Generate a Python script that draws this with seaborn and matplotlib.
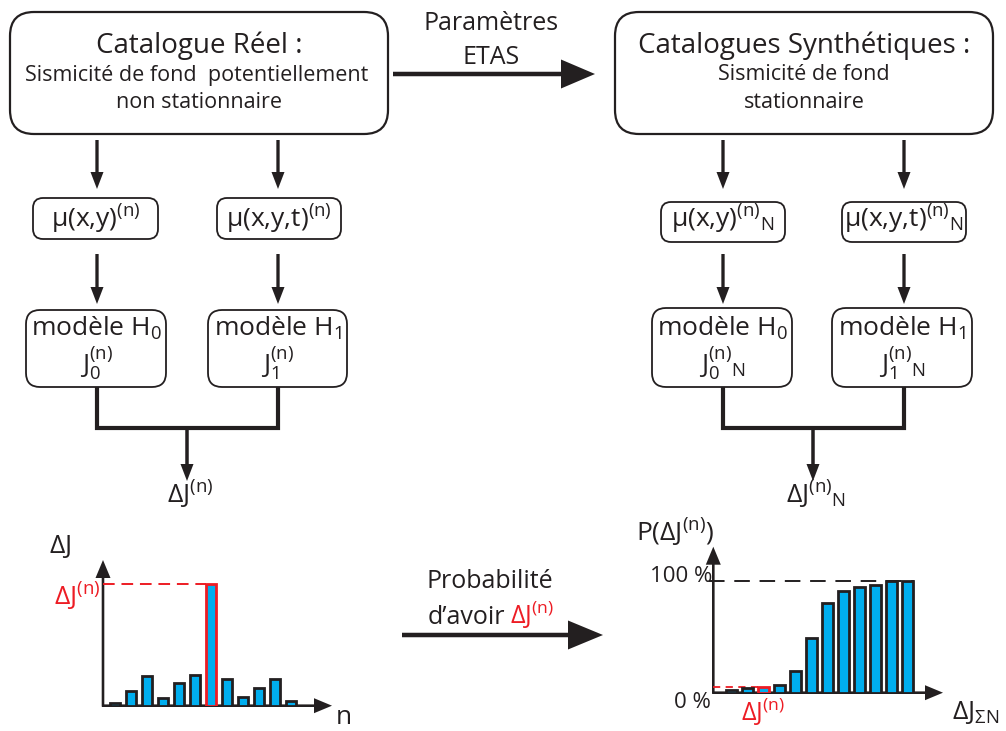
import matplotlib
matplotlib.use("Agg")
import matplotlib.pyplot as plt
from matplotlib.patches import FancyBboxPatch, FancyArrow
import seaborn as sns

sns.set_theme(style="white")
plt.rcParams['font.family'] = ['Open Sans', 'DejaVu Sans']
plt.rcParams['mathtext.fontset'] = 'custom'
plt.rcParams['mathtext.rm'] = 'Open Sans'
plt.rcParams['mathtext.it'] = 'Open Sans:italic'
plt.rcParams['mathtext.bf'] = 'Open Sans:bold'

DARK = '#231F20'
RED = '#ED1C24'
BLUE = '#00AEEF'

# bar chart data
dj_index = list(range(12))
dj_values = [3, 15, 30, 8, 23, 31, 122, 27, 9, 18, 27, 5]   # delta J per catalogue n
dj_peak = 6                                                  # the real catalogue bar
prob_index = list(range(12))
prob_values = [2.4, 3.9, 5.4, 7.1, 19.6, 48.5, 80.4, 90.8, 94.0, 96.4, 99.4, 100.0]  # P(dJ) in %
prob_mark = 2

W, H = 1006, 731
fig = plt.figure(figsize=(W / 100, H / 100), dpi=100)
ax = fig.add_axes([0, 0, 1, 1])
ax.set_xlim(0, W)
ax.set_ylim(H, 0)
ax.axis('off')


def frac(x0, y0, x1, y1):
    return [x0 / W, 1 - y1 / H, (x1 - x0) / W, (y1 - y0) / H]


def box(x0, y0, x1, y1, r=14, lw=1.3):
    ax.add_patch(FancyBboxPatch((x0, y0), x1 - x0, y1 - y0,
                                boxstyle=f"round,pad=0,rounding_size={r}",
                                fc='white', ec=DARK, lw=lw, zorder=2))


def arrow(x0, y0, x1, y1, w=3.3, hw=13, hl=17):
    ax.add_patch(FancyArrow(x0, y0, x1 - x0, y1 - y0, width=w, head_width=hw,
                            head_length=hl, length_includes_head=True,
                            color=DARK, lw=0, zorder=3))


def txt(x, y, s, size=19, color=DARK, ha='center'):
    ax.text(x, y, s, fontsize=size, color=color, ha=ha, va='center', zorder=4)


# --- top boxes ---
box(10, 12, 388, 134, r=24, lw=1.6)
txt(199, 46, 'Catalogue Réel :', 20)
txt(197, 75, 'Sismicité de fond  potentiellement', 15.5)
txt(199, 102, 'non stationnaire', 15.5)

box(615, 12, 993, 134, r=24, lw=1.6)
txt(804, 46, 'Catalogues Synthétiques :', 20)
txt(804, 75, 'Sismicité de fond', 15.5)
txt(804, 102, 'stationnaire', 15.5)

txt(491, 23, 'Paramètres', 18)
txt(491, 58, 'ETAS', 18)
arrow(393, 74, 595, 74, w=4.5, hw=29, hl=34)


def branch(xl, xr, xc, mu_l, mu_r, top_y, mu_box_l, mu_box_r, mod_l, mod_r,
           labels, out_label):
    arrow(xl, top_y, xl, 189)
    arrow(xr, top_y, xr, 189)
    box(*mu_box_l, r=10)
    box(*mu_box_r, r=10)
    txt((mu_box_l[0] + mu_box_l[2]) / 2, 219, mu_l)
    txt((mu_box_r[0] + mu_box_r[2]) / 2, 219, mu_r)
    arrow(xl, 254, xl, 304)
    arrow(xr, 254, xr, 304)
    box(*mod_l, r=14)
    box(*mod_r, r=14)
    txt((mod_l[0] + mod_l[2]) / 2, 328, labels[0])
    txt((mod_l[0] + mod_l[2]) / 2, 364, labels[1])
    txt((mod_r[0] + mod_r[2]) / 2, 328, labels[2])
    txt((mod_r[0] + mod_r[2]) / 2, 364, labels[3])
    ax.plot([xl, xl, xr, xr], [387, 428, 428, 387], color=DARK, lw=3,
            solid_joinstyle='miter', zorder=1)
    arrow(xc, 427, xc, 481, w=3.5)
    txt(xc + 3, 495, out_label)


branch(97, 278, 187, r'$\mathregular{\mu(x{,}y)^{(n)}}$',
       r'$\mathregular{\mu(x{,}y{,}t)^{(n)}}$', 140,
       (33, 198, 158, 239), (217, 198, 341, 239),
       (26, 310, 166, 387), (208, 310, 347, 387),
       [r'modèle $\mathregular{H_0}$', r'$\mathregular{J_0^{(n)}}$',
        r'modèle $\mathregular{H_1}$', r'$\mathregular{J_1^{(n)}}$'],
       r'$\mathregular{\Delta J^{(n)}}$')

branch(723, 904, 813, r'$\mathregular{\mu(x{,}y)^{(n)}{}_N}$',
       r'$\mathregular{\mu(x{,}y{,}t)^{(n)}{}_N}$', 140,
       (661, 202, 785, 242), (842, 202, 966, 242),
       (652, 308, 792, 387), (832, 308, 972, 387),
       [r'modèle $\mathregular{H_0}$', r'$\mathregular{J_0^{(n)}{}_N}$',
        r'modèle $\mathregular{H_1}$', r'$\mathregular{J_1^{(n)}{}_N}$'],
       r'$\mathregular{\Delta J^{(n)}{}_N}$')

# --- bottom middle arrow ---
txt(490, 582, 'Probabilité', 18)
txt(505, 617, 'd’avoir', 18, ha='right')
txt(510, 615, r'$\mathregular{\Delta J^{(n)}}$', 18, color=RED, ha='left')
arrow(402, 635, 603, 635, w=4.5, hw=29, hl=35)

# --- left bar chart: delta J per catalogue ---
x0, x1, ytop, ybase = 103, 332, 560, 705.7
bx = fig.add_axes(frac(x0, ytop, x1, ybase))
sns.barplot(x=dj_index, y=dj_values, ax=bx, color=BLUE, saturation=1,
            edgecolor=DARK, linewidth=2, width=0.63, zorder=2)
bx.patches[dj_peak].set_edgecolor(RED)
bx.set_xlim(-0.75, -0.75 + (x1 - x0) / 16)
bx.set_ylim(0, ybase - ytop)
bx.plot([-0.75, dj_peak - 0.32], [dj_values[dj_peak]] * 2, color=RED, lw=1.4,
        dashes=(6, 3.5), clip_on=False, zorder=1)
bx.axis('off')
bx.patch.set_alpha(0)
arrow(x0, ybase + 1, x0, ytop, w=2.6, hw=15, hl=18)
arrow(x0 - 1, ybase, x1, ybase, w=2.6, hw=15, hl=18)
txt(60, 547, r'$\mathregular{\Delta J}$', 19)
txt(77, 597, r'$\mathregular{\Delta J^{(n)}}$', 19, color=RED)
txt(344, 717, 'n', 19)

# --- right bar chart: cumulative probability ---
x0, x1, ytop, ybase = 713.3, 943, 546.7, 692.7
px100 = 112.0
cx = fig.add_axes(frac(x0, ytop, x1, ybase))
sns.barplot(x=prob_index, y=prob_values, ax=cx, color=BLUE, saturation=1,
            edgecolor=DARK, linewidth=2, width=0.66, zorder=2)
cx.patches[prob_mark].set_edgecolor(RED)
cx.set_xlim(-1.125, -1.125 + (x1 - x0) / 16)
cx.set_ylim(0, (ybase - ytop) / px100 * 100)
cx.plot([-1.4, 11.4], [100, 100], color=DARK, lw=1.4, dashes=(8, 5),
        clip_on=False, zorder=1)
cx.plot([-1.125, prob_mark - 0.33], [prob_values[prob_mark]] * 2, color=RED,
        lw=1.3, dashes=(4, 3), clip_on=False, zorder=1)
cx.axis('off')
cx.patch.set_alpha(0)
arrow(x0, ybase + 1, x0, ytop, w=2.6, hw=15, hl=18)
arrow(x0 - 1, ybase, x1, ybase, w=2.6, hw=15, hl=18)
txt(675, 533, r'$\mathregular{P(\Delta J^{(n)})}$', 19)
txt(681, 577, '100 %', 16)
txt(692, 703, '0 %', 16)
txt(763, 712, r'$\mathregular{\Delta J^{(n)}}$', 18, color=RED)
txt(976, 712, r'$\mathregular{\Delta J_{\Sigma N}}$', 19)

fig.savefig('out.png', dpi=100, facecolor='white')
